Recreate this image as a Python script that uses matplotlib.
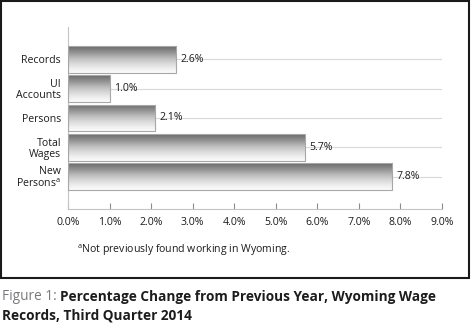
import numpy as np
import matplotlib.pyplot as plt
from matplotlib.patches import Rectangle

categories = ['Records', 'UI\nAccounts', 'Persons', 'Total\nWages', 'New\nPersons$^{\\mathregular{a}}$']
values = [2.6, 1.0, 2.1, 5.7, 7.8]
xticks = np.arange(0, 9.5, 1.0)

plt.rcParams['font.family'] = ['Open Sans', 'DejaVu Sans']
plt.rcParams['mathtext.fontset'] = 'custom'
plt.rcParams['mathtext.rm'] = 'Open Sans'
txt = '#1e1b1c'

fig = plt.figure(figsize=(4.71, 3.30), dpi=100)
ax = fig.add_axes([68/471, 1 - 209/330, 374/471, 182/330])

ypos = np.arange(len(categories))
bars = ax.barh(ypos, values, height=0.92, color='none', edgecolor='#a7a7a7', linewidth=0.8, zorder=3)

# vertical shading inside each bar, dark on top fading to light
grad = np.linspace(0, 1, 64).reshape(-1, 1)
for b in bars:
    x0, y0 = b.get_x(), b.get_y()
    w, h = b.get_width(), b.get_height()
    im = ax.imshow(grad, cmap='Greys_r', vmin=-0.55, vmax=1.05, aspect='auto',
                   extent=(x0, x0 + w, y0 + h, y0), origin='upper', zorder=2)
    im.set_clip_path(b)

for y, v in zip(ypos, values):
    ax.plot([v, 9.0], [y, y], color='#d9d9d9', lw=0.8, zorder=1)
    ax.annotate(f'{v:.1f}%', (v, y), xytext=(3, 0), textcoords='offset points',
                va='center', ha='left', fontsize=7.6, color=txt, zorder=4)

ax.set_xlim(0, 9.0)
ax.set_ylim(5.11, -1.11)
ax.set_xticks(xticks)
ax.set_xticklabels([f'{t:.1f}%' for t in xticks])
ax.set_yticks(ypos)
ax.set_yticklabels(categories)
ax.tick_params(axis='x', direction='in', length=4, color='#8c8c8c', width=0.8,
               labelsize=7.6, labelcolor=txt, pad=5.5)
ax.tick_params(axis='y', length=0, labelsize=7.6, labelcolor=txt, pad=5)
for lab in ax.get_yticklabels():
    lab.set_linespacing(1.0)
for s in ['top', 'right']:
    ax.spines[s].set_visible(False)
for s in ['left', 'bottom']:
    ax.spines[s].set_color('#c4c4c4')
    ax.spines[s].set_linewidth(0.8)

fig.text(77/471, 1 - 250/330, '$^{\\mathregular{a}}$Not previously found working in Wyoming.',
         fontsize=7.6, color=txt, va='center', ha='left')

# frame around the chart area
fig.patches.append(Rectangle((1/471, 1 - 278/330), 468/471, 277/330, transform=fig.transFigure,
                             fill=False, edgecolor='#1a1a1a', linewidth=1.5))

t1 = fig.text(2/471, 1 - 304/330, 'Figure 1: ', fontsize=9.8, color='#77787b',
              va='bottom', ha='left')
ax.annotate('Percentage Change from Previous Year, Wyoming Wage', xy=(1, 0), xycoords=t1,
            fontsize=9.8, fontweight='bold', color=txt, va='bottom', ha='left',
            annotation_clip=False)
fig.text(2/471, 1 - 322/330, 'Records, Third Quarter 2014', fontsize=9.8,
         fontweight='bold', color=txt, va='bottom', ha='left')

fig.savefig('out.png', dpi=100)
